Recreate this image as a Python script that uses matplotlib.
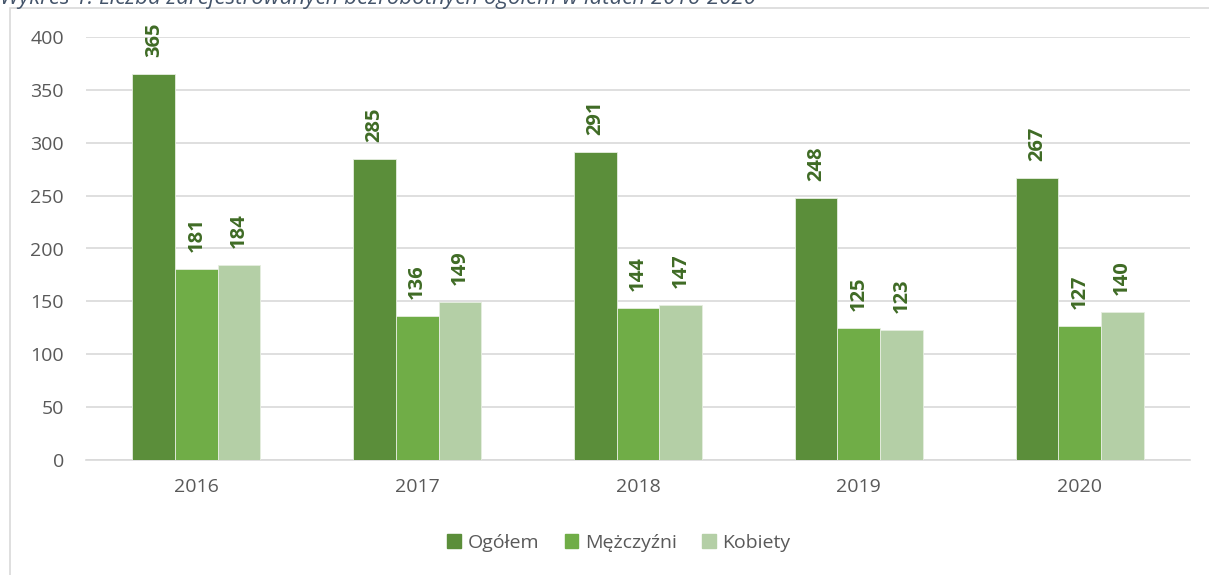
import numpy as np
import matplotlib
matplotlib.use("Agg")
import matplotlib.pyplot as plt
import matplotlib.patches as mpatches

plt.rcParams['font.family'] = ['Open Sans', 'DejaVu Sans']

years = ['2016', '2017', '2018', '2019', '2020']
ogolem = [365, 285, 291, 248, 267]
mezczyzni = [181, 136, 144, 125, 127]
kobiety = [184, 149, 147, 123, 140]
series_names = ['Ogółem', 'Mężczyźni', 'Kobiety']
colors = ['#5B8E3A', '#70AD47', '#B4CFA6']

fig = plt.figure(figsize=(12.09, 5.75), dpi=100)

# outer chart frame (runs off the bottom/right like the screenshot)
frame = mpatches.Rectangle((10/1209, -0.1), 1.2, 1 - 8/575 + 0.1, transform=fig.transFigure,
                           fill=False, edgecolor='#D9D9D9', lw=1.2)
fig.patches.append(frame)

# title, mostly cut off at the top edge in the source image
fig.text(0.0, 1 - 4/575, 'Wykres 1. Liczba zarejestrowanych bezrobotnych ogółem w latach 2016-2020',
         ha='left', va='baseline', fontsize=16, style='italic', color='#44546A')

ax = fig.add_axes([86/1209, 1 - 460/575, (1190 - 86)/1209, (460 - 37)/575])

x = np.arange(len(years))
w = 0.193
for i, (vals, name, c) in enumerate(zip([ogolem, mezczyzni, kobiety], series_names, colors)):
    pos = x + (i - 1) * w
    ax.bar(pos, vals, w, color=c, edgecolor='#E6EEE0', linewidth=0.6, label=name, zorder=3)
    for px, v in zip(pos, vals):
        ax.annotate(str(v), (px, v), xytext=(0, 17), textcoords='offset pixels',
                    rotation=90, ha='center', va='bottom', fontsize=14.5, fontweight='bold',
                    color='#3F6B25')

ax.set_xlim(-0.5, 4.5)
ax.set_ylim(0, 400)
ax.set_yticks(range(0, 401, 50))
ax.set_xticks(x)
ax.set_xticklabels(years)
ax.tick_params(axis='both', length=0, labelsize=14, labelcolor='#595959')
ax.tick_params(axis='y', pad=16)
ax.tick_params(axis='x', pad=13)
ax.grid(axis='y', color='#D9D9D9', lw=1.2, zorder=0)
for s in ['top', 'right', 'left']:
    ax.spines[s].set_visible(False)
ax.spines['bottom'].set_color('#D9D9D9')
ax.spines['bottom'].set_linewidth(1.2)

handles = [mpatches.Patch(color=c, label=n) for c, n in zip(colors, series_names)]
fig.legend(handles=handles, loc='center', bbox_to_anchor=(619/1209, 1 - 543/575), ncol=3,
           frameon=False, fontsize=14, handlelength=0.7, handleheight=0.7, handletextpad=0.35,
           columnspacing=1.3, labelcolor='#595959')

fig.savefig('out.png', dpi=100)
